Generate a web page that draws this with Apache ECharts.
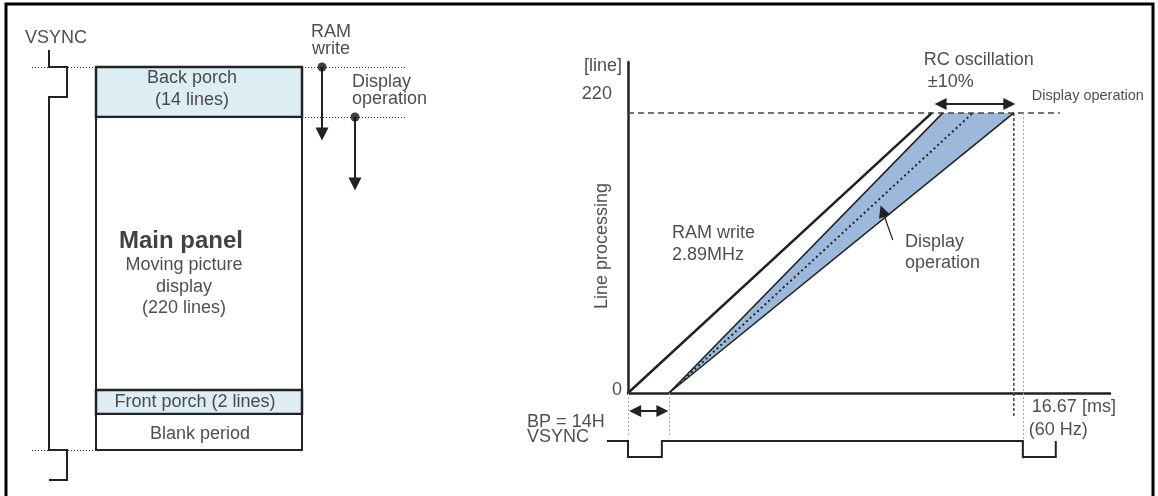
<!DOCTYPE html>
<html>
<head>
<meta charset="utf-8">
<title>Frame timing</title>
<script src="https://cdn.jsdelivr.net/npm/echarts@6/dist/echarts.min.js"></script>
<style>
  html, body { margin: 0; padding: 0; background: #fff; }
  #chart { width: 1158px; height: 496px; }
</style>
</head>
<body>
<div id="chart"></div>
<script>
var FONT = '"Liberation Sans", Arial, sans-serif';
var INK = '#222';

// ---- left block diagram (diagram units) ----
var blockNames = ['Back porch', 'Main panel', 'Front porch', 'Blank period'];
var blockX = [96, 302];
var blockEdges = [67, 117, 390, 414, 450];
var vsyncLeft = [[49, 50], [49, 67], [67, 67], [67, 97], [49, 97], [49, 450], [67, 450], [67, 480], [49, 480]];
var leftGuides = [[[32, 67], [96, 67]], [[302, 67], [405, 67]], [[302, 117], [407, 117]], [[32, 450], [96, 450]]];
var startDots = [[322, 67], [355, 117]];
var downArrows = [[[322, 67], [322, 134]], [[355, 117], [355, 184]]];

// ---- right chart: x in ms, y in lines ----
var ramWrite = [[0, 0], [12.83, 220]];
var dispFast = [[1.73, 0], [13.29, 220]];
var dispNominal = [[1.73, 0], [14.56, 220]];
var dispSlow = [[1.73, 0], [16.29, 220]];
var line220 = [[0, 220], [18.23, 220]];
var slowDrop = [[16.29, 220], [16.29, -18.9]];
var greyDrops = [[[0, 0], [0, -33]], [[1.73, 0], [1.73, -33]], [[16.67, 220], [16.67, -52.6]]];
var vsyncRight = [[-0.89, -37.7], [0, -37.7], [0, -50.3], [1.43, -50.3], [1.43, -37.7],
                  [16.67, -37.7], [16.67, -50.3], [18.06, -50.3], [18.06, -37.7]];
var bpSpan = [[0.3, -14.1], [1.45, -14.1]];
var rcSpan = [[13.2, 227.1], [16.1, 227.1]];
var pointer = [[11.18, 120.2], [10.75, 142.8]];

var chart = echarts.init(document.getElementById('chart'));

function notes(idx, items) {
  return {
    type: 'scatter', xAxisIndex: idx, yAxisIndex: idx, symbolSize: 1, clip: false, silent: true, z: 20,
    itemStyle: { color: 'transparent' },
    data: items.map(function (n) {
      return {
        value: [n.x, n.y],
        label: Object.assign({
          show: true, position: 'inside', formatter: n.t, color: INK, fontFamily: FONT,
          fontSize: 18, align: n.a || 'left', verticalAlign: 'middle', lineHeight: n.lh || 20
        }, n.s || {})
      };
    })
  };
}

function plain(idx, data, style, z) {
  return {
    type: 'line', xAxisIndex: idx, yAxisIndex: idx, data: data, symbol: 'none', clip: false,
    silent: true, lineStyle: style, z: z || 5
  };
}

// straight segments (optionally with arrow heads)
function segs(idx, list, style, ends, size) {
  return {
    type: 'lines', coordinateSystem: 'cartesian2d', xAxisIndex: idx, yAxisIndex: idx, clip: false,
    silent: true, symbol: ends || 'none', symbolSize: size || 13, z: 6,
    lineStyle: Object.assign({ opacity: 1, curveness: 0 }, style),
    data: list.map(function (c) { return { coords: c }; })
  };
}

// multi-point step traces
function trace(idx, pts, style) {
  return {
    type: 'lines', coordinateSystem: 'cartesian2d', xAxisIndex: idx, yAxisIndex: idx, clip: false,
    polyline: true, silent: true, z: 6,
    lineStyle: Object.assign({ opacity: 1, curveness: 0 }, style),
    data: [{ coords: pts }]
  };
}

var option = {
  animation: false,
  backgroundColor: '#fff',
  grid: [
    { left: 0, top: 0, width: 440, height: 496, outerBoundsMode: 'none' },
    { left: 628, top: 62, width: 482, height: 331, outerBoundsMode: 'none' }
  ],
  xAxis: [
    { gridIndex: 0, type: 'value', min: 0, max: 440, show: false },
    {
      gridIndex: 1, type: 'value', min: 0, max: 20.35,
      axisLine: { show: true, lineStyle: { color: INK, width: 2.5 } },
      axisTick: { show: false }, axisLabel: { show: false }, splitLine: { show: false }
    }
  ],
  yAxis: [
    { gridIndex: 0, type: 'value', min: 0, max: 496, inverse: true, show: false },
    {
      gridIndex: 1, type: 'value', min: 0, max: 260,
      axisLine: { show: true, lineStyle: { color: INK, width: 2.5 } },
      axisTick: { show: false }, axisLabel: { show: false }, splitLine: { show: false }
    }
  ],
  graphic: [{
    type: 'rect', shape: { x: 6, y: 4, width: 1147, height: 520 },
    style: { fill: 'none', stroke: '#000', lineWidth: 3 }, z: 100
  }],
  series: [
    // left: frame blocks
    {
      type: 'custom', xAxisIndex: 0, yAxisIndex: 0, silent: true, z: 2,
      data: blockNames.map(function (n, i) { return [i]; }),
      renderItem: function (params, api) {
        var i = api.value(0);
        var a = api.coord([blockX[0], blockEdges[i]]);
        var b = api.coord([blockX[1], blockEdges[i + 1]]);
        var shaded = blockNames[i].indexOf('porch') >= 0;
        return {
          type: 'rect',
          shape: { x: a[0], y: a[1], width: b[0] - a[0], height: b[1] - a[1] },
          style: { fill: shaded ? '#dcedf4' : '#fff', stroke: INK, lineWidth: (i === 0 || i === 2) ? 2.5 : 2 }
        };
      }
    },
    trace(0, vsyncLeft, { color: INK, width: 2 }),
    segs(0, leftGuides, { color: '#333', width: 1, type: [1, 2] }),
    segs(0, downArrows, { color: INK, width: 2 }, ['none', 'triangle']),
    {
      type: 'scatter', xAxisIndex: 0, yAxisIndex: 0, data: startDots, symbolSize: 9, silent: true, z: 8,
      itemStyle: { color: '#111' }
    },
    notes(0, [
      { x: 25, y: 38, t: 'VSYNC' },
      { x: 331, y: 40.5, t: 'RAM\nwrite', a: 'center', lh: 17 },
      { x: 352, y: 90.5, t: 'Display\noperation', lh: 17 },
      { x: 192, y: 89, t: 'Back porch\n(14 lines)', a: 'center', lh: 22 },
      { x: 181, y: 241, t: 'Main panel', a: 'center', s: { fontSize: 24, fontWeight: 'bold', color: '#111' } },
      { x: 184, y: 287, t: 'Moving picture\ndisplay\n(220 lines)', a: 'center', lh: 21.5 },
      { x: 195, y: 402, t: 'Front porch (2 lines)', a: 'center' },
      { x: 200, y: 434, t: 'Blank period', a: 'center' }
    ]),

    // right: line processing chart
    {
      type: 'custom', xAxisIndex: 1, yAxisIndex: 1, silent: true, clip: false, z: 2,
      data: [dispFast[0]],
      renderItem: function (params, api) {
        var pts = [dispFast[0], dispFast[1], dispSlow[1]].map(function (p) { return api.coord(p); });
        return { type: 'polygon', shape: { points: pts }, style: { fill: '#9cb9db' } };
      }
    },
    plain(1, line220, { color: '#444', width: 1.5, type: [6, 4] }, 3),
    plain(1, dispFast, { color: INK, width: 1.6 }),
    plain(1, dispSlow, { color: INK, width: 1.6 }),
    plain(1, dispNominal, { color: INK, width: 2, type: [2, 3] }),
    plain(1, ramWrite, { color: INK, width: 2.5 }),
    plain(1, slowDrop, { color: '#444', width: 1.5, type: [3, 2] }),
    segs(1, greyDrops, { color: '#aaa', width: 1, type: [2, 2] }),
    trace(1, vsyncRight, { color: INK, width: 2 }),
    segs(1, [bpSpan, rcSpan], { color: INK, width: 2 }, ['triangle', 'triangle'], 12),
    segs(1, [pointer], { color: INK, width: 1.2 }, ['none', 'triangle'], 12),
    notes(1, [
      { x: -0.25, y: 256.9, t: '[line]', a: 'right' },
      { x: -0.68, y: 235, t: '220', a: 'right' },
      { x: -0.25, y: 2.4, t: '0', a: 'right' },
      { x: -1.1, y: 115.5, t: 'Line processing', a: 'center', s: { rotate: 90 } },
      { x: 1.86, y: 117, t: 'RAM write\n2.89MHz', lh: 22 },
      { x: 11.69, y: 110.4, t: 'Display\noperation', lh: 21 },
      { x: 12.49, y: 261.6, t: 'RC oscillation' },
      { x: 12.66, y: 244.4, t: '\u00b110%' },
      { x: 17.05, y: 233.4, t: 'Display operation', s: { fontSize: 14.5 } },
      { x: 17.05, y: -11, t: '16.67 [ms]' },
      { x: 16.92, y: -29.1, t: '(60 Hz)' },
      { x: -4.26, y: -28.7, t: 'BP = 14H\nVSYNC', lh: 15 }
    ])
  ]
};

chart.setOption(option);
</script>
</body>
</html>
